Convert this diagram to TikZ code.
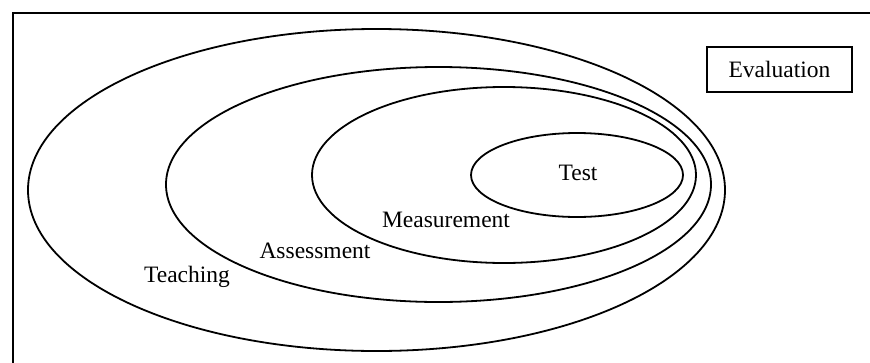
\documentclass[tikz,border=0pt]{standalone}
\usepackage{fontspec}
\setmainfont{Liberation Serif}
\begin{document}
\begin{tikzpicture}[x=1pt,y=-1pt,
  ring/.style={draw=black,line width=1.8pt},
  lbl/.style={inner sep=0pt,font=\fontsize{23.5}{28}\selectfont},
  evalbox/.style={draw=black,line width=2pt,minimum width=145pt,minimum height=45pt,inner sep=0pt,font=\fontsize{23.5}{28}\selectfont}]
\useasboundingbox (0,0) rectangle (870,362);
\begin{scope}
\clip (0,0) rectangle (870,362);
\draw[line width=2.2pt] (13,13) rectangle (890,390);
\end{scope}
% ellipses
\draw[ring] (376.5,190) ellipse [x radius=348.5, y radius=161];
\draw[ring] (438.5,184.5) ellipse [x radius=272.5, y radius=117.5];
\draw[ring] (504,175) ellipse [x radius=192, y radius=88];
\draw[ring] (577,175) ellipse [x radius=106, y radius=42];
% labels
\node[lbl] (test) at (578,173) {Test};
\node[lbl] (meas) at (446,220) {Measurement};
\node[lbl] (assess) at (315,251) {Assessment};
\node[lbl] (teach) at (187,277) {Teaching};
\node[evalbox] (eval) at (779.5,69.5) {Evaluation};
\end{tikzpicture}
\end{document}
